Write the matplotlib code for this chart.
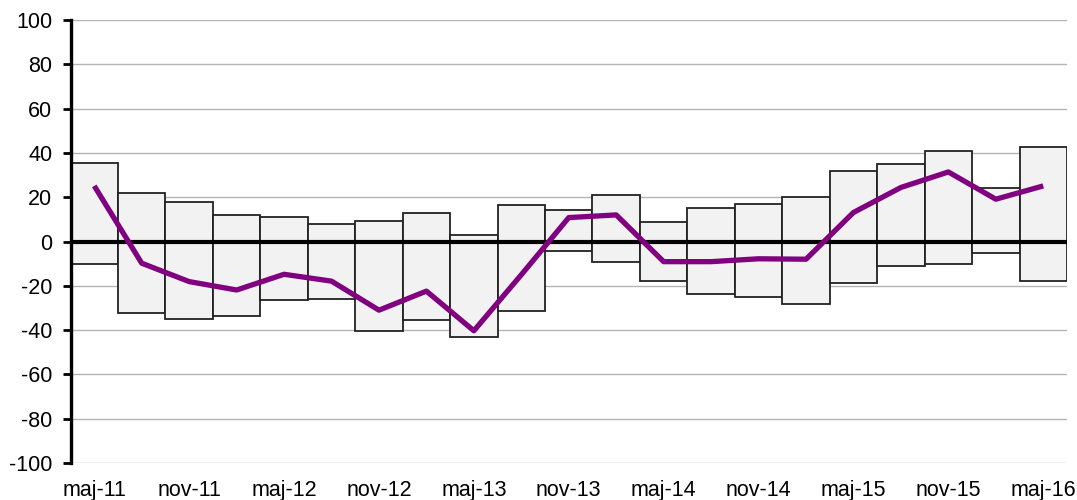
import matplotlib.pyplot as plt
import numpy as np

plt.rcParams['font.family'] = ['Liberation Sans', 'DejaVu Sans']
plt.rcParams['axes.unicode_minus'] = False

# kvartal maj-11 .. maj-16
perioder = ['maj-11', 'aug-11', 'nov-11', 'feb-12', 'maj-12', 'aug-12', 'nov-12',
            'feb-13', 'maj-13', 'aug-13', 'nov-13', 'feb-14', 'maj-14', 'aug-14',
            'nov-14', 'feb-15', 'maj-15', 'aug-15', 'nov-15', 'feb-16', 'maj-16']
hoj = [35.4, 22.1, 17.9, 12.1, 11.2, 7.9, 9.4, 12.9, 3.0, 16.6, 14.4,
       21.0, 9.0, 15.1, 16.9, 20.1, 32.0, 35.0, 40.9, 24.0, 42.8]
lag = [-10.0, -32.2, -35.0, -33.6, -26.4, -25.9, -40.3, -35.4, -43.3, -31.6, -4.1,
       -9.1, -17.9, -23.7, -25.0, -28.0, -18.9, -10.9, -10.2, -5.1, -17.9]
netto = [25.1, -9.8, -18.1, -21.9, -14.8, -17.9, -31.0, -22.4, -40.3, -15.0, 10.8,
         12.0, -9.1, -9.1, -7.8, -8.0, 13.1, 24.4, 31.4, 19.1, 25.1]

x = np.arange(len(perioder))
hoj = np.array(hoj)
lag = np.array(lag)

fig = plt.figure(figsize=(10.77, 5.0), dpi=100)
ax = fig.add_axes([0.0655, 0.074, 0.9252, 0.886])

ax.bar(x, hoj - lag, bottom=lag, width=1.0, color='#f2f2f2',
       edgecolor='#222222', linewidth=1.3, zorder=2)
ax.axhline(0, color='black', linewidth=3, zorder=3)
ax.plot(x, netto, color='#800080', linewidth=3.8, zorder=4, solid_capstyle='butt')

ax.set_xlim(-0.5, len(perioder) - 0.5)
ax.set_ylim(-100, 100)
ax.set_yticks(np.arange(-100, 101, 20))
ax.set_xticks(x[::2])
ax.set_xticklabels(perioder[::2])
ax.yaxis.grid(True, color='#b4b4b4', linewidth=1)
ax.set_axisbelow(True)

for s in ['top', 'right', 'bottom']:
    ax.spines[s].set_visible(False)
ax.spines['left'].set_linewidth(2.4)
ax.spines['left'].set_zorder(5)
ax.tick_params(axis='y', length=6, width=2, labelsize=15.5, pad=7)
ax.tick_params(axis='x', length=0, labelsize=15.5, pad=12)

fig.savefig('out.png', dpi=100)
